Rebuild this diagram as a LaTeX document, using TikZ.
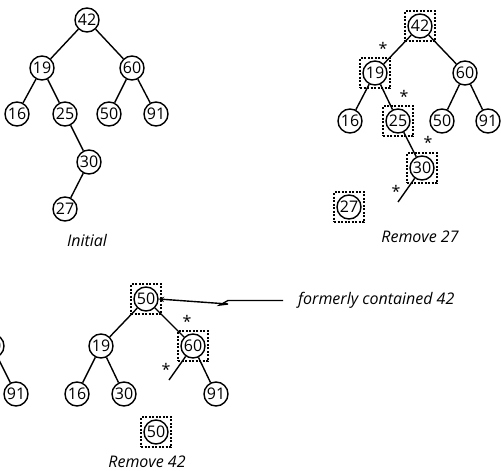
\documentclass[tikz,border=0pt]{standalone}
\usepackage{fontspec}
\setmainfont{Open Sans}
\begin{document}
\begin{tikzpicture}[x=1pt,y=-1pt,
  keynode/.style={circle,draw,line width=1.4pt,minimum size=24pt,inner sep=0pt,font=\fontsize{16}{16}\selectfont},
  link/.style={line width=1.4pt},
  dbox/.style={draw,line width=1.5pt,dash pattern=on 2pt off 1.5pt,minimum size=30pt,inner sep=0pt},
  astx/.style={font=\fontsize{16}{16}\selectfont,inner sep=0pt},
  captxt/.style={font=\fontsize{16}{16}\selectfont\itshape,inner sep=0pt}]
\useasboundingbox (0,0) rectangle (501,471);
\clip (0,0) rectangle (501,471);
% ---- Initial
\node[keynode] (a42) at (87,20) {42};
\node[keynode] (a19) at (42,68) {19};
\node[keynode] (a60) at (132,68) {60};
\node[keynode] (a16) at (17,114) {16};
\node[keynode] (a25) at (65,114) {25};
\node[keynode] (a50) at (109,114) {50};
\node[keynode] (a91) at (156,114) {91};
\node[keynode] (a30) at (89,162) {30};
\node[keynode] (a27) at (65,209) {27};
\draw[link] (a42)--(a19) (a42)--(a60) (a19)--(a16) (a19)--(a25)
  (a60)--(a50) (a60)--(a91) (a25)--(a30) (a30)--(a27);
\node[captxt] (capa) at (87,240) {Initial};
% ---- Remove 27
\node[keynode] (b42) at (420,26) {42};
\node[keynode] (b19) at (375,73) {19};
\node[keynode] (b60) at (465,73) {60};
\node[keynode] (b16) at (350,121) {16};
\node[keynode] (b25) at (398,121) {25};
\node[keynode] (b50) at (442,121) {50};
\node[keynode] (b91) at (488,121) {91};
\node[keynode] (b30) at (422,168) {30};
\node[keynode] (b27) at (349,207) {27};
\coordinate (bend) at (398,202);
\foreach \n in {b42,b19,b25,b30,b27} \node[dbox] at (\n.center) {};
\draw[link] (b42)--(b19) (b42)--(b60) (b19)--(b16) (b19)--(b25)
  (b60)--(b50) (b60)--(b91) (b25)--(b30) (b30)--(bend);
\node[astx] (s1) at (383,48) {*};
\node[astx] (s2) at (404,96) {*};
\node[astx] (s3) at (428,142) {*};
\node[astx] (s4) at (396,191) {*};
\node[captxt] (capb) at (420,237) {Remove 27};
% ---- partial tree at left edge
\node[keynode] (p60) at (-8,346) {60};
\node[keynode] (p91) at (16,394) {91};
\draw[link] (p60)--(p91);
% ---- Remove 42
\node[keynode] (c50) at (146,299) {50};
\node[keynode] (c19) at (101,346) {19};
\node[keynode] (c60) at (193,346) {60};
\node[keynode] (c16) at (77,394) {16};
\node[keynode] (c30) at (124,394) {30};
\node[keynode] (c91) at (216,394) {91};
\node[keynode] (cx50) at (156,432) {50};
\coordinate (cend) at (169,380);
\foreach \n in {c50,c60,cx50} \node[dbox] at (\n.center) {};
\draw[link] (c50)--(c19) (c50)--(c60) (c19)--(c16) (c19)--(c30)
  (c60)--(cend) (c60)--(c91);
\node[astx] (s5) at (187,321) {*};
\node[astx] (s6) at (166,369) {*};
\node[captxt] (capc) at (147,462) {Remove 42};
% ---- annotation
\node[captxt,anchor=west] (note) at (298,300) {formerly contained 42};
\coordinate (k1) at (283,300.5);
\coordinate (k2) at (228,300.5);
\coordinate (k3) at (220,305);
\coordinate (k4) at (228,304);
\draw[line width=1.4pt,-stealth] (k1)--(k2)--(k3)--(k4)--(c50.east);
\end{tikzpicture}
\end{document}
